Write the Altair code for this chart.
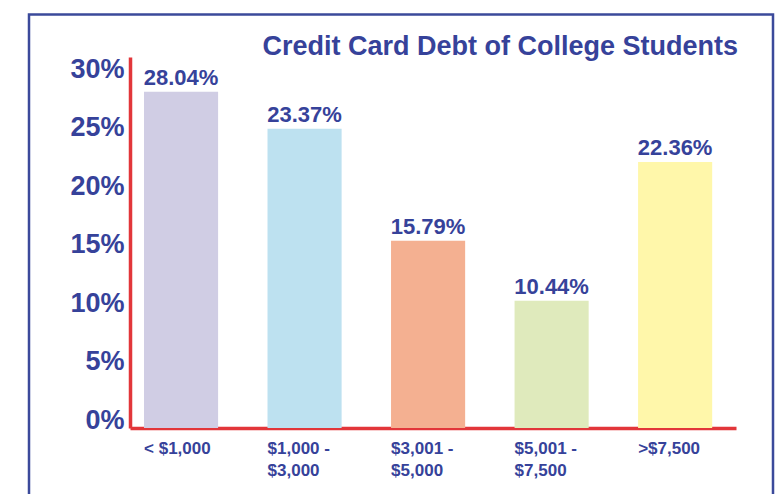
import altair as alt
import pandas as pd

categories = ["< $1,000", "$1,000 - $3,000", "$3,001 - $5,000", "$5,001 - $7,500", ">$7,500"]
# bar heights as drawn in the picture (percent)
bar_heights = [28.1, 25.0, 15.65, 10.63, 22.23]
# printed value labels
value_labels = ["28.04%", "23.37%", "15.79%", "10.44%", "22.36%"]
colors = ["#d0cde4", "#bde1f0", "#f4b091", "#dfeabc", "#fff7aa"]
y_ticks = [0, 5, 10, 15, 20, 25, 30]
title_text = "Credit Card Debt of College Students"

NAVY = "#36429a"
RED = "#e2363a"
FONT = "Liberation Sans"

df = pd.DataFrame({
    "cat": categories,
    "val": bar_heights,
    "label": value_labels,
})

x_enc = alt.X(
    "cat:N",
    sort=categories,
    scale=alt.Scale(paddingInner=0.4, paddingOuter=0.153, align=0.37),
    axis=alt.Axis(
        title=None, labelAngle=0, labelAlign="left", labelOffset=-37,
        labelBaseline="top", labelPadding=12, labelFont=FONT, labelFontSize=17,
        labelFontWeight="bold", labelColor=NAVY, labelLineHeight=22,
        ticks=False, domainColor=RED, domainWidth=3.5, grid=False,
        labelOverlap=False, labelBound=False,
        labelExpr="indexof(datum.label, ' - ') > 0 ? [substring(datum.label, 0, indexof(datum.label, ' - ') + 2), substring(datum.label, indexof(datum.label, ' - ') + 3)] : datum.label",
    ),
)
y_enc = alt.Y(
    "val:Q",
    scale=alt.Scale(domain=[0, 31], nice=False, zero=True),
    axis=alt.Axis(
        title=None, values=y_ticks, labelExpr="datum.value + '%'",
        labelFont=FONT, labelFontSize=27, labelFontWeight="bold", labelColor=NAVY,
        labelPadding=6, labelOffset=alt.ExprRef(expr="-7.5 + datum.value * 0.2667"),
        ticks=False, grid=False,
        domainColor=RED, domainWidth=3.5, labelOverlap=False, labelBound=False,
    ),
)

bars = alt.Chart(df).mark_bar().encode(
    x=x_enc,
    y=y_enc,
    color=alt.Color("cat:N", scale=alt.Scale(domain=categories, range=colors), legend=None),
)

labels = alt.Chart(df).mark_text(
    font=FONT, fontSize=22, fontWeight="bold", color=NAVY,
    baseline="alphabetic", align="center", dy=-7,
).encode(
    x=alt.X("cat:N", sort=categories),
    y=alt.Y("val:Q"),
    text="label:N",
)

title = alt.Chart(pd.DataFrame({"t": [title_text]})).mark_text(
    font=FONT, fontSize=27, fontWeight="bold", color=NAVY,
    align="right", baseline="alphabetic",
).encode(
    x=alt.value(608), y=alt.value(-2), text="t:N",
)

frame = alt.Chart(pd.DataFrame({"a": [0]})).mark_rect(
    fillOpacity=0, stroke="#3b4a9b", strokeWidth=2.5,
).encode(
    x=alt.value(-101), x2=alt.value(643), y=alt.value(-42.5), y2=alt.value(480),
)

chart = alt.layer(frame, bars, labels, title).properties(
    width=606, height=371,
    padding={"left": 130, "top": 57, "right": 48, "bottom": 66},
    autosize="none",
    background="white",
).configure_view(stroke=None)

chart.save("out.html", embed_options={"renderer": "svg", "actions": False})
